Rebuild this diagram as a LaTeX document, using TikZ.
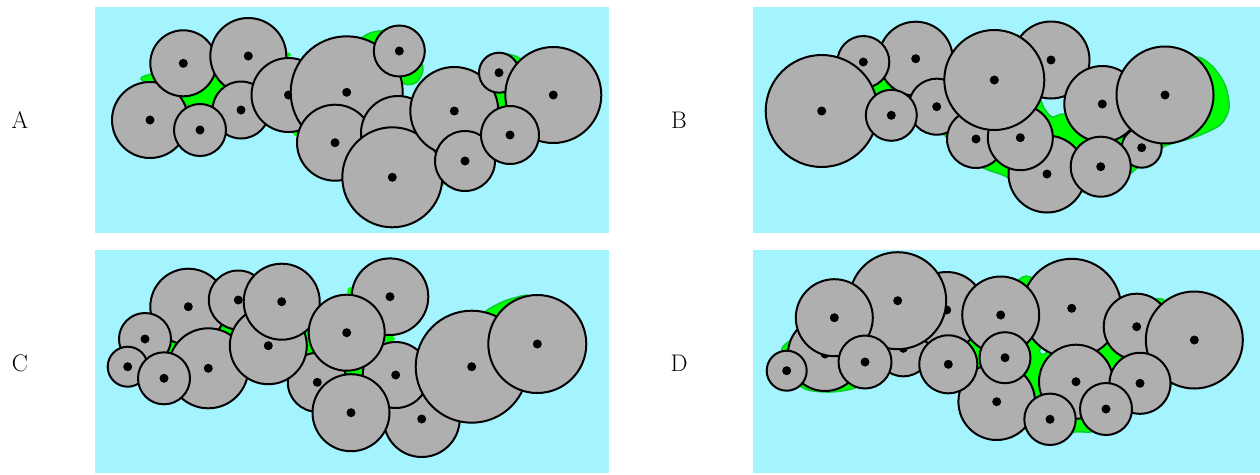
\documentclass[tikz,border=0pt]{standalone}
\definecolor{bgcyan}{RGB}{164,244,255}
\definecolor{ballgray}{RGB}{175,175,175}
\definecolor{blobgreen}{RGB}{0,255,0}
\definecolor{blobedge}{RGB}{10,205,50}
\newcommand\drawballs[1]{\foreach \cx/\cy/\cr in {#1}{\draw[ball] (\cx,\cy) circle[radius=\cr]; \fill (\cx,\cy) circle[radius=4.5];}}
\begin{document}
\begin{tikzpicture}[x=1pt,y=-1pt,
  ball/.style={fill=ballgray,draw=black,line width=2pt},
  blob/.style={fill=blobgreen,draw=blobedge,line width=1.5pt},
  patch/.style={fill=blobgreen},
  panel/.style={fill=bgcyan},
  lbl/.style={font=\fontsize{24}{28}\selectfont,inner sep=0pt}]
\useasboundingbox (0,0) rectangle (1260,474);
% panels
\fill[panel] (95,7) rectangle (609,232.5);
\fill[panel] (753,7) rectangle (1260,232.5);
\fill[panel] (95,250) rectangle (609,473);
\fill[panel] (753,250) rectangle (1260,473);
% labels
\node[lbl] (labA) at (20,120) {A};
\node[lbl] (labB) at (679,120) {B};
\node[lbl] (labC) at (20,363) {C};
\node[lbl] (labD) at (679,363) {D};
% ---------- panel A ----------
\draw[blob] plot[smooth cycle] coordinates {(141,79) (160,73) (190,76) (216,76) (228,92) (218,108) (192,107) (168,95)};
\draw[blob] plot[smooth cycle] coordinates {(358,41) (370,33) (385,30) (402,27) (416,42) (420,56) (423,70) (417,82) (405,84) (385,70) (362,50)};
\draw[blob] (505,82) circle[radius=28];
\fill[patch] (286,55) ellipse[x radius=5,y radius=3];
\fill[patch] (296,133) circle[radius=3];
\fill[patch] (442,183) circle[radius=3];
\drawballs{150/120/38, 183.3/63.3/33, 248.3/56/38, 241/110/28.5, 200/130/26, 288.5/95/37,
  346.7/92.3/56, 335/142.7/38, 398/133/37, 399.3/51/25.5, 392.3/177.3/50, 454.3/111/44,
  465/161/30, 499/72.7/20, 553.3/95/48, 510/135/29}
% ---------- panel B ----------
\draw[blob] plot[smooth cycle] coordinates {(875,78) (900,75) (930,85) (960,95) (1000,100) (1025,97) (1038,96) (1044,108) (1052,117) (1064,114) (1080,125) (1110,135) (1127,137) (1140,120) (1170,75) (1195,57) (1212,66) (1225,85) (1229,108) (1220,125) (1195,137) (1165,146) (1148,158) (1136,169) (1120,180) (1090,190) (1060,195) (1030,190) (1005,176) (988,170) (975,163) (950,140) (930,125) (905,118) (885,106) (870,97) (866,86)};
\drawballs{915.7/58.7/37, 863.3/62/26, 821.7/111/56, 936.7/106.7/28, 891.3/115.3/25.5,
  976/139/29, 1047/174/38.5, 1020.3/137.7/32.5, 1051/60/38.5, 994.3/80/50, 1102.3/104/38,
  1141.7/147.7/20, 1100.7/166.7/30, 1165/95/48.5}
% ---------- panel C ----------
\fill[patch] (226,329) circle[radius=8];
\fill[patch] (172,346) circle[radius=8];
\fill[patch] (309,340) ellipse[x radius=8,y radius=15];
\fill[patch] (352,373) ellipse[x radius=12,y radius=6];
\fill[patch] (351,291) circle[radius=4];
\fill[patch] (389,339) ellipse[x radius=6,y radius=4];
\draw[blob] plot[smooth cycle] coordinates {(476,322) (486,311) (500,303) (514,298) (530,297) (530,330) (495,338)};
\drawballs{188.3/306.7/38, 238.3/300/29.5, 145/339/26, 127.7/366.7/20, 208.3/368.3/40,
  164/378.3/26, 317.3/382.3/29.5, 268.3/345.7/38.5, 281.7/301.7/38, 390/296.7/38.3,
  421.7/419/38, 395.7/375/33, 346.7/332.7/38, 351/412.7/38.5, 471.7/366.7/56, 537.3/344/49}
% ---------- panel D ----------
\draw[blob] plot[smooth cycle] coordinates {(782,349) (800,333) (830,300) (870,290) (920,285) (950,290) (980,290) (1010,285) (1026,276) (1045,285) (1080,300) (1120,305) (1150,300) (1165,301) (1175,330) (1174,370) (1171,386) (1150,405) (1125,415) (1110,428) (1090,432) (1075,432) (1055,438) (1025,420) (1000,435) (975,420) (960,385) (930,372) (905,368) (880,375) (855,388) (830,392) (805,389) (790,375)};
\filldraw[fill=bgcyan,draw=blobedge,line width=1.2pt] (1043,351) circle[radius=3.5];
\drawballs{825/354/37, 786.7/370.7/20, 903.3/348.3/28, 946.7/310/38, 897.7/300.7/48.5,
  834.3/317.7/38.5, 865/362/26.5, 996.7/401.7/38.3, 948.3/364.3/29, 1071.7/308.3/49.5,
  1000.7/315/38.5, 1005/357.7/25.5, 1136.7/326.7/33, 1194.3/340/48.5, 1076/381.7/37,
  1140/383.3/30.5, 1106/409/26, 1050/419.3/25.7}
\end{tikzpicture}
\end{document}
